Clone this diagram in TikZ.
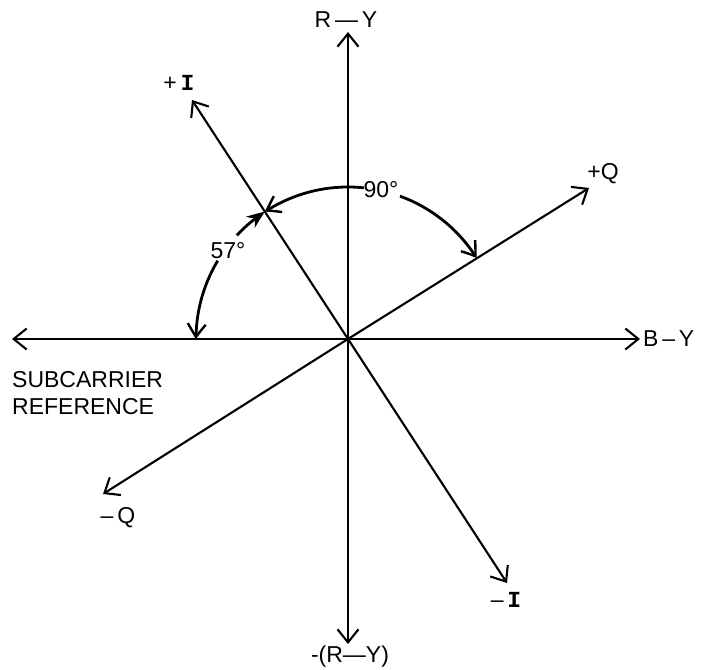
\documentclass[tikz,border=0pt]{standalone}
\usepackage{fontspec}
\setmainfont{Liberation Sans}
\newfontfamily\monoI{Liberation Mono}
\usetikzlibrary{arrows.meta,bending}
\newcommand{\Ibar}{{\monoI\bfseries I}}
\begin{document}
\begin{tikzpicture}[x=1pt,y=1pt,
  axis/.style={line width=2.1pt,-{Straight Barb[length=13pt,width=21pt,line width=2.1pt]}},
  arcline/.style={line width=2.8pt,-{Straight Barb[length=13pt,width=18pt,line width=2.4pt,bend]}},
  arcfill/.style={line width=2.8pt,-{Stealth[length=18pt,width=14pt,bend]}},
  lab/.style={font=\fontsize{23}{27}\selectfont,inner sep=0pt}]
\useasboundingbox (0,0) rectangle (703,669);
\coordinate (O) at (348,330);
% axis ends
\coordinate (ry) at (348,637);
\coordinate (mry) at (348,25);
\coordinate (sub) at (12,330);
\coordinate (by) at (640,330);
\coordinate (pI) at (192,569);
\coordinate (mI) at (507,86);
\coordinate (pQ) at (589,481);
\coordinate (mQ) at (103,175);
% axes
\draw[axis] (O) -- (ry);
\draw[axis] (O) -- (mry);
\draw[axis] (O) -- (sub);
\draw[axis] (O) -- (by);
\draw[axis] (O) -- (pI);
\draw[axis] (O) -- (mI);
\draw[axis] (O) -- (pQ);
\draw[axis] (O) -- (mQ);
% labels
\node[lab] (lry) at (346,649) {R\,—\,Y};
\node[lab,anchor=base] (lmry) at (350,6.5) {-(R—Y)};
\node[lab,anchor=west] (lby) at (643,330) {B\,–\,Y};
\node[lab] (lpI) at (179,586) {+\,\Ibar};
\node[lab] (lmI) at (506,69) {–\,\Ibar};
\node[lab] (lpQ) at (603,495) {+Q};
\node[lab] (lmQ) at (118,151) {–\,Q};
\node[lab,anchor=north west,align=left] (lsub) at (12,298) {SUBCARRIER\\REFERENCE};
\node[lab] (l90) at (381,479) {90°};
\node[lab] (l57) at (228,418) {57°};
% angle arcs
\draw[arcline] ([shift={(84:152)}]O) arc[start angle=84,end angle=123.1,radius=152];
\draw[arcline] ([shift={(70:152)}]O) arc[start angle=70,end angle=32.2,radius=152];
\draw[arcfill] ([shift={(137:152)}]O) arc[start angle=137,end angle=123.1,radius=152];
\draw[arcline] ([shift={(149:152)}]O) arc[start angle=149,end angle=180,radius=152];
\end{tikzpicture}
\end{document}
